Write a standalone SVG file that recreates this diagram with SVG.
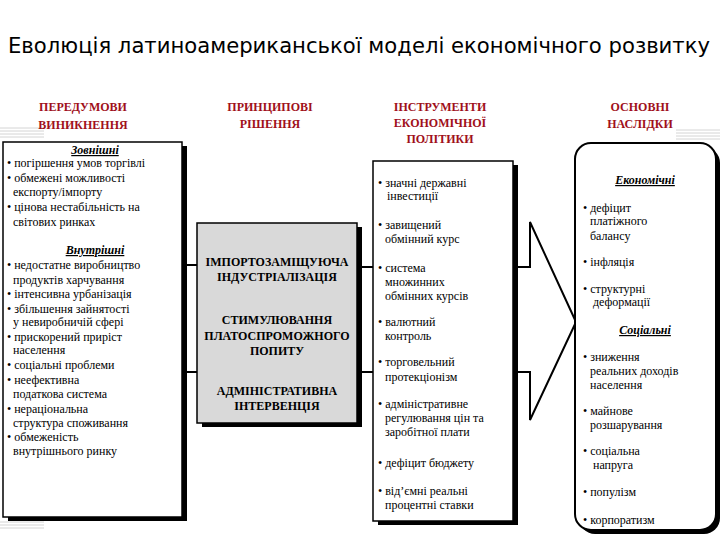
<svg xmlns="http://www.w3.org/2000/svg" width="720" height="540" viewBox="0 0 720 540">
<style>
.title{font-family:"DejaVu Sans",sans-serif;font-size:21px;fill:#000}
.hdr{font-family:"Liberation Serif","Times New Roman",serif;font-size:12px;font-weight:bold;fill:#A0101A;text-anchor:middle}
.t{font-family:"Liberation Serif","Times New Roman",serif;font-size:12px;fill:#000}
.sub{font-family:"Liberation Serif","Times New Roman",serif;font-size:12px;font-weight:bold;font-style:italic;text-decoration:underline;fill:#000;text-anchor:middle}
.g{font-family:"Liberation Serif","Times New Roman",serif;font-size:12px;font-weight:bold;fill:#000;text-anchor:middle}
.box{fill:#fff;stroke:#000;stroke-width:1.5}
.gray{fill:#D9D9D9;stroke:#000;stroke-width:1.5}
.sh{fill:#000}
.con{stroke:#000;stroke-width:2;fill:none}
.deco{stroke:#D4D4D4;stroke-width:1}
</style>
<rect width="720" height="540" fill="#fff"/>
<g id="decor">
<line class="deco" x1="0" y1="128" x2="44" y2="128"/><line class="deco" x1="0" y1="131" x2="44" y2="131"/><line class="deco" x1="0" y1="134" x2="44" y2="134"/><line class="deco" x1="0" y1="137" x2="44" y2="137"/>
<line class="deco" x1="0" y1="522" x2="44" y2="522"/><line class="deco" x1="0" y1="525" x2="44" y2="525"/><line class="deco" x1="0" y1="528" x2="44" y2="528"/>
<line class="deco" x1="676" y1="130" x2="720" y2="130"/><line class="deco" x1="676" y1="133" x2="720" y2="133"/><line class="deco" x1="676" y1="136" x2="720" y2="136"/><line class="deco" x1="676" y1="139" x2="720" y2="139"/>
</g>
<text class="title" x="8" y="53" textLength="702" lengthAdjust="spacingAndGlyphs">Еволюція латиноамериканської моделі економічного розвитку</text>
<g id="headers">
<text class="hdr" x="83" y="111">ПЕРЕДУМОВИ</text>
<text class="hdr" x="83" y="129">ВИНИКНЕННЯ</text>
<text class="hdr" x="270" y="111">ПРИНЦИПОВІ</text>
<text class="hdr" x="270" y="128">РІШЕННЯ</text>
<text class="hdr" x="440" y="111">ІНСТРУМЕНТИ</text>
<text class="hdr" x="440" y="127">ЕКОНОМІЧНОЇ</text>
<text class="hdr" x="440" y="143">ПОЛІТИКИ</text>
<text class="hdr" x="640" y="111">ОСНОВНІ</text>
<text class="hdr" x="640" y="128">НАСЛІДКИ</text>
</g>
<g id="connectors">
<line class="con" x1="182" y1="265" x2="197" y2="265"/>
<line class="con" x1="177" y1="372" x2="197" y2="372"/>
<line class="con" x1="357" y1="267" x2="373" y2="267"/>
<line class="con" x1="357" y1="372" x2="373" y2="372"/>
<polyline class="con" points="518,267 530,267 530,222 576,322"/>
<polyline class="con" points="518,372 530,372 530,420 576,322"/>
</g>
<g id="preconditions">
<rect class="sh" x="8" y="146" width="179" height="375"/>
<rect class="box" x="3" y="142" width="179" height="375"/>
<text class="sub" x="95" y="154">Зовнішні</text>
<text class="t" x="7" y="167">• погіршення умов торгівлі</text>
<text class="t" x="7" y="182">• обмежені можливості</text>
<text class="t" x="13" y="196">експорту/імпорту</text>
<text class="t" x="7" y="211">• цінова нестабільність на</text>
<text class="t" x="13" y="226">світових ринках</text>
<text class="sub" x="95" y="254">Внутрішні</text>
<text class="t" x="7" y="269">• недостатне виробництво</text>
<text class="t" x="13" y="284">продуктів харчування</text>
<text class="t" x="7" y="298">• інтенсивна урбанізація</text>
<text class="t" x="7" y="313">• збільшення зайнятості</text>
<text class="t" x="13" y="326">у невиробничій сфері</text>
<text class="t" x="7" y="341">• прискорений приріст</text>
<text class="t" x="13" y="354">населення</text>
<text class="t" x="7" y="369">• соціальні проблеми</text>
<text class="t" x="7" y="384">• неефективна</text>
<text class="t" x="13" y="398">податкова система</text>
<text class="t" x="7" y="413">• нераціональна</text>
<text class="t" x="13" y="427">структура споживання</text>
<text class="t" x="7" y="441">• обмеженість</text>
<text class="t" x="13" y="455">внутрішнього ринку</text>
</g>
<g id="decisions">
<rect class="sh" x="202" y="227" width="160" height="200"/>
<rect class="gray" x="197" y="223" width="160" height="200"/>
<text class="g" x="277" y="266">ІМПОРТОЗАМІЩУЮЧА</text>
<text class="g" x="277" y="281">ІНДУСТРІАЛІЗАЦІЯ</text>
<text class="g" x="277" y="324">СТИМУЛЮВАННЯ</text>
<text class="g" x="277" y="340">ПЛАТОСПРОМОЖНОГО</text>
<text class="g" x="277" y="355">ПОПИТУ</text>
<text class="g" x="277" y="395">АДМІНІСТРАТИВНА</text>
<text class="g" x="277" y="410">ІНТЕРВЕНЦІЯ</text>
</g>
<g id="instruments">
<rect class="sh" x="378" y="165" width="140" height="360"/>
<rect class="box" x="373" y="161" width="140" height="360"/>
<text class="t" x="378" y="187">• значні державні</text>
<text class="t" x="387" y="200">інвестиції</text>
<text class="t" x="378" y="229">• завищений</text>
<text class="t" x="385" y="243">обмінний курс</text>
<text class="t" x="378" y="272">• система</text>
<text class="t" x="385" y="286">множинних</text>
<text class="t" x="385" y="300">обмінних курсів</text>
<text class="t" x="378" y="326">• валютний</text>
<text class="t" x="385" y="340">контроль</text>
<text class="t" x="378" y="366">• торговельний</text>
<text class="t" x="385" y="381">протекціонізм</text>
<text class="t" x="378" y="408">• адміністративне</text>
<text class="t" x="385" y="422">регулювання цін та</text>
<text class="t" x="385" y="436">заробітної плати</text>
<text class="t" x="378" y="467">• дефіцит бюджету</text>
<text class="t" x="378" y="495">• від’ємні реальні</text>
<text class="t" x="385" y="509">процентні ставки</text>
</g>
<g id="consequences">
<rect class="sh" x="579" y="147" width="141" height="387" rx="16"/>
<rect x="575" y="143" width="141" height="387" rx="16" fill="#fff" stroke="#000" stroke-width="2"/>
<text class="sub" x="645" y="184">Економічні</text>
<text class="t" x="583" y="212">• дефіцит</text>
<text class="t" x="590" y="225">платіжного</text>
<text class="t" x="590" y="240">балансу</text>
<text class="t" x="583" y="266">• інфляція</text>
<text class="t" x="583" y="293">• структурні</text>
<text class="t" x="593" y="306">деформації</text>
<text class="sub" x="645" y="334">Соціальні</text>
<text class="t" x="583" y="361">• зниження</text>
<text class="t" x="590" y="375">реальних доходів</text>
<text class="t" x="590" y="389">населення</text>
<text class="t" x="583" y="415">• майнове</text>
<text class="t" x="590" y="429">розшарування</text>
<text class="t" x="583" y="455">• соціальна</text>
<text class="t" x="593" y="469">напруга</text>
<text class="t" x="583" y="496">• популізм</text>
<text class="t" x="583" y="524">• корпоратизм</text>
</g>
</svg>
